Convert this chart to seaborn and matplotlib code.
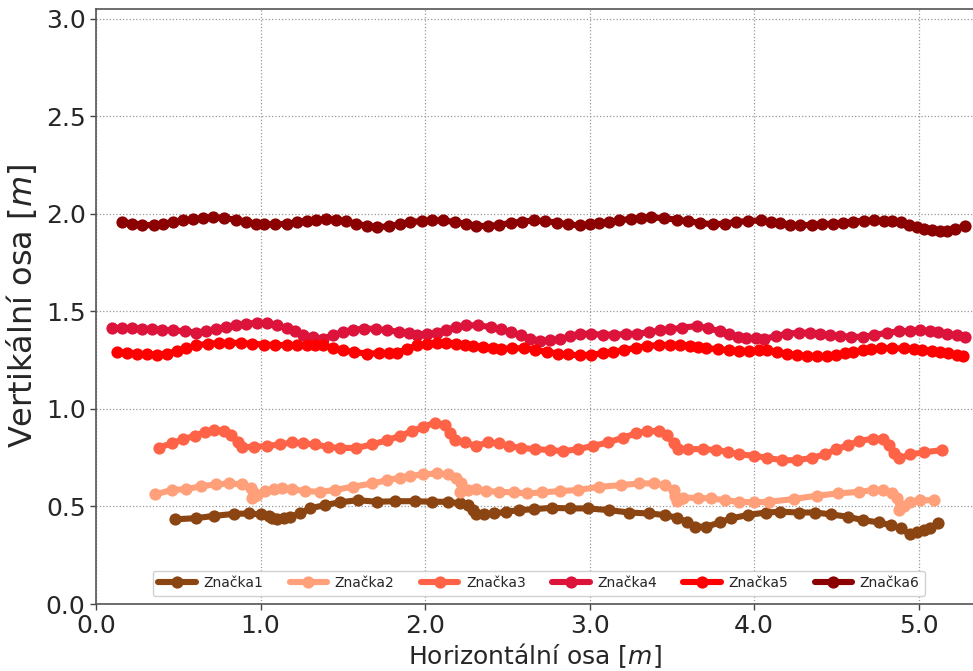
import numpy as np
import pandas as pd
import matplotlib
matplotlib.use("Agg")
import matplotlib.pyplot as plt
from matplotlib.ticker import MultipleLocator, FormatStrFormatter
import seaborn as sns

# ── data ─────────────────────────────────────────────────────────────────────
x1 = [0.48, 0.61, 0.72, 0.84, 0.93, 1.00, 1.05, 1.07, 1.10, 1.14,
      1.18, 1.24, 1.30, 1.39, 1.48, 1.59, 1.71, 1.82, 1.94, 2.04,
      2.14, 2.21, 2.26, 2.29, 2.31, 2.36, 2.42, 2.49, 2.57, 2.66,
      2.77, 2.88, 2.99, 3.12, 3.24, 3.36, 3.46, 3.53, 3.59, 3.64,
      3.71, 3.79, 3.86, 3.96, 4.07, 4.16, 4.27, 4.37, 4.47, 4.57,
      4.66, 4.76, 4.83, 4.89, 4.95, 4.99, 5.03, 5.07, 5.12]
y1 = [0.434, 0.440, 0.452, 0.462, 0.464, 0.459, 0.451, 0.439, 0.434, 0.439,
      0.447, 0.464, 0.490, 0.507, 0.521, 0.532, 0.524, 0.527, 0.527, 0.524,
      0.524, 0.516, 0.507, 0.481, 0.459, 0.459, 0.464, 0.473, 0.481, 0.486,
      0.493, 0.490, 0.490, 0.481, 0.469, 0.464, 0.456, 0.442, 0.421, 0.396,
      0.396, 0.418, 0.439, 0.456, 0.469, 0.473, 0.469, 0.469, 0.459, 0.447,
      0.430, 0.418, 0.404, 0.388, 0.357, 0.370, 0.379, 0.391, 0.413]

x2 = [0.36, 0.46, 0.55, 0.64, 0.73, 0.81, 0.89, 0.94, 0.96, 0.95,
      0.98, 1.03, 1.08, 1.13, 1.19, 1.27, 1.36, 1.45, 1.56, 1.68,
      1.77, 1.85, 1.91, 1.99, 2.07, 2.14, 2.19, 2.22, 2.21, 2.26,
      2.31, 2.37, 2.45, 2.54, 2.62, 2.71, 2.82, 2.93, 3.06, 3.19,
      3.30, 3.39, 3.46, 3.51, 3.52, 3.53, 3.55, 3.57, 3.66, 3.74,
      3.82, 3.91, 4.00, 4.09, 4.24, 4.38, 4.51, 4.64, 4.72, 4.78,
      4.84, 4.87, 4.88, 4.91, 4.95, 5.01, 5.09]
y2 = [0.562, 0.584, 0.589, 0.604, 0.613, 0.618, 0.613, 0.596, 0.567, 0.541,
      0.558, 0.579, 0.589, 0.596, 0.589, 0.579, 0.575, 0.584, 0.601, 0.618,
      0.635, 0.648, 0.657, 0.664, 0.669, 0.664, 0.647, 0.618, 0.575, 0.584,
      0.589, 0.579, 0.575, 0.572, 0.567, 0.572, 0.579, 0.584, 0.601, 0.609,
      0.618, 0.618, 0.609, 0.584, 0.552, 0.527, 0.536, 0.545, 0.544, 0.541,
      0.532, 0.524, 0.521, 0.524, 0.538, 0.555, 0.567, 0.575, 0.584, 0.584,
      0.567, 0.541, 0.481, 0.503, 0.521, 0.532, 0.532]

x3 = [0.38, 0.46, 0.53, 0.60, 0.66, 0.72, 0.78, 0.82, 0.86, 0.89,
      0.96, 1.04, 1.12, 1.19, 1.26, 1.33, 1.41, 1.48, 1.58, 1.68,
      1.77, 1.85, 1.92, 1.99, 2.06, 2.12, 2.15, 2.18, 2.24, 2.31,
      2.38, 2.45, 2.51, 2.58, 2.67, 2.76, 2.84, 2.93, 3.02, 3.11,
      3.20, 3.28, 3.35, 3.42, 3.47, 3.51, 3.54, 3.60, 3.69, 3.77,
      3.84, 3.91, 4.00, 4.08, 4.17, 4.26, 4.35, 4.43, 4.50, 4.57,
      4.64, 4.72, 4.78, 4.82, 4.85, 4.88, 4.95, 5.03, 5.14]
y3 = [0.802, 0.823, 0.845, 0.862, 0.882, 0.891, 0.886, 0.865, 0.831, 0.805,
      0.805, 0.810, 0.818, 0.828, 0.823, 0.818, 0.805, 0.800, 0.800, 0.818,
      0.840, 0.862, 0.886, 0.908, 0.930, 0.917, 0.874, 0.840, 0.828, 0.810,
      0.828, 0.823, 0.810, 0.800, 0.794, 0.789, 0.783, 0.794, 0.810, 0.828,
      0.852, 0.874, 0.886, 0.886, 0.865, 0.823, 0.797, 0.794, 0.794, 0.789,
      0.780, 0.767, 0.760, 0.749, 0.737, 0.737, 0.749, 0.767, 0.794, 0.814,
      0.835, 0.848, 0.845, 0.814, 0.772, 0.746, 0.767, 0.777, 0.789]

x4 = [0.10, 0.16, 0.22, 0.28, 0.34, 0.40, 0.47, 0.54, 0.61, 0.67,
      0.73, 0.79, 0.85, 0.91, 0.98, 1.04, 1.10, 1.16, 1.21, 1.26,
      1.32, 1.38, 1.44, 1.50, 1.56, 1.63, 1.70, 1.77, 1.84, 1.90,
      1.95, 2.01, 2.07, 2.13, 2.19, 2.25, 2.32, 2.40, 2.46, 2.52,
      2.58, 2.64, 2.70, 2.76, 2.82, 2.88, 2.94, 3.01, 3.08, 3.15,
      3.22, 3.29, 3.36, 3.43, 3.49, 3.56, 3.65, 3.72, 3.79, 3.85,
      3.90, 3.95, 4.01, 4.06, 4.13, 4.20, 4.27, 4.34, 4.40, 4.46,
      4.52, 4.59, 4.66, 4.73, 4.81, 4.88, 4.95, 5.01, 5.07, 5.12,
      5.17, 5.23, 5.28]
y4 = [1.415, 1.415, 1.414, 1.412, 1.410, 1.406, 1.403, 1.398, 1.391, 1.398,
      1.410, 1.420, 1.428, 1.436, 1.442, 1.439, 1.429, 1.415, 1.398, 1.381,
      1.368, 1.360, 1.378, 1.394, 1.405, 1.412, 1.410, 1.402, 1.396, 1.388,
      1.381, 1.384, 1.391, 1.405, 1.420, 1.429, 1.428, 1.420, 1.408, 1.394,
      1.378, 1.360, 1.349, 1.352, 1.358, 1.372, 1.386, 1.384, 1.381, 1.381,
      1.383, 1.386, 1.393, 1.402, 1.408, 1.416, 1.425, 1.414, 1.398, 1.382,
      1.370, 1.364, 1.361, 1.360, 1.372, 1.386, 1.390, 1.391, 1.385, 1.378,
      1.374, 1.370, 1.369, 1.378, 1.391, 1.397, 1.401, 1.403, 1.398, 1.392,
      1.386, 1.377, 1.369]

x5 = [0.13, 0.19, 0.25, 0.31, 0.37, 0.43, 0.49, 0.55, 0.61, 0.68,
      0.75, 0.81, 0.88, 0.95, 1.02, 1.09, 1.16, 1.22, 1.28, 1.33,
      1.38, 1.44, 1.50, 1.57, 1.65, 1.72, 1.78, 1.83, 1.89, 1.95,
      2.01, 2.07, 2.13, 2.19, 2.24, 2.29, 2.35, 2.41, 2.46, 2.53,
      2.60, 2.67, 2.74, 2.81, 2.87, 2.94, 3.01, 3.08, 3.14, 3.21,
      3.28, 3.35, 3.42, 3.49, 3.55, 3.61, 3.66, 3.71, 3.78, 3.85,
      3.91, 3.97, 4.03, 4.08, 4.14, 4.20, 4.26, 4.32, 4.38, 4.44,
      4.50, 4.55, 4.60, 4.66, 4.71, 4.77, 4.84, 4.91, 4.97, 5.02,
      5.08, 5.13, 5.18, 5.23, 5.27]
y5 = [1.292, 1.288, 1.284, 1.280, 1.278, 1.284, 1.295, 1.311, 1.326, 1.334,
      1.338, 1.340, 1.338, 1.334, 1.330, 1.328, 1.327, 1.326, 1.326, 1.327,
      1.326, 1.314, 1.301, 1.291, 1.284, 1.285, 1.287, 1.289, 1.306, 1.326,
      1.334, 1.338, 1.340, 1.335, 1.329, 1.323, 1.318, 1.313, 1.309, 1.310,
      1.312, 1.302, 1.292, 1.284, 1.279, 1.275, 1.278, 1.285, 1.292, 1.302,
      1.313, 1.323, 1.327, 1.329, 1.330, 1.324, 1.318, 1.312, 1.306, 1.300,
      1.295, 1.297, 1.300, 1.301, 1.292, 1.283, 1.275, 1.273, 1.271, 1.271,
      1.277, 1.285, 1.292, 1.300, 1.307, 1.312, 1.311, 1.310, 1.309, 1.303,
      1.297, 1.292, 1.285, 1.278, 1.271]

x6 = [0.16, 0.22, 0.28, 0.35, 0.41, 0.47, 0.53, 0.59, 0.65, 0.71,
      0.78, 0.85, 0.91, 0.97, 1.02, 1.09, 1.16, 1.22, 1.28, 1.34,
      1.40, 1.46, 1.52, 1.58, 1.65, 1.71, 1.78, 1.85, 1.91, 1.98,
      2.04, 2.11, 2.18, 2.25, 2.31, 2.38, 2.45, 2.52, 2.59, 2.66,
      2.73, 2.80, 2.87, 2.94, 3.00, 3.06, 3.12, 3.18, 3.25, 3.31,
      3.37, 3.45, 3.53, 3.60, 3.67, 3.75, 3.82, 3.89, 3.96, 4.04,
      4.10, 4.16, 4.22, 4.28, 4.35, 4.41, 4.48, 4.54, 4.60, 4.67,
      4.73, 4.79, 4.84, 4.89, 4.94, 4.99, 5.03, 5.08, 5.13, 5.17,
      5.22, 5.28]
y6 = [1.958, 1.950, 1.944, 1.941, 1.948, 1.958, 1.966, 1.972, 1.978, 1.983,
      1.978, 1.970, 1.960, 1.950, 1.946, 1.946, 1.949, 1.956, 1.964, 1.970,
      1.972, 1.970, 1.962, 1.950, 1.938, 1.932, 1.936, 1.948, 1.958, 1.963,
      1.966, 1.966, 1.958, 1.948, 1.940, 1.936, 1.944, 1.953, 1.960, 1.966,
      1.962, 1.955, 1.946, 1.941, 1.946, 1.952, 1.958, 1.966, 1.975, 1.980,
      1.983, 1.978, 1.970, 1.962, 1.954, 1.946, 1.950, 1.958, 1.963, 1.966,
      1.960, 1.952, 1.944, 1.941, 1.944, 1.947, 1.949, 1.955, 1.960, 1.965,
      1.966, 1.964, 1.961, 1.958, 1.945, 1.932, 1.924, 1.915, 1.911, 1.911,
      1.922, 1.936]

labels = ["Značka1", "Značka2", "Značka3", "Značka4", "Značka5", "Značka6"]
colors = ["#8B4513", "#FFA07A", "#FF6347", "#DC143C", "#FF0000", "#8B0000"]
series = [(x1, y1), (x2, y2), (x3, y3), (x4, y4), (x5, y5), (x6, y6)]

# ── plot ─────────────────────────────────────────────────────────────────────
sns.set_style("white")
plt.rcParams["font.family"] = ["DejaVu Sans"]
plt.rcParams["mathtext.fontset"] = "dejavusans"

fig = plt.figure(figsize=(9.73, 6.71), dpi=100)
ax = fig.add_axes([96 / 973, 67 / 671, 877 / 973, 595 / 671])

for (xs, ys), lab, col in zip(series, labels, colors):
    df = pd.DataFrame({"x": xs, "y": ys})
    sns.lineplot(data=df, x="x", y="y", ax=ax, sort=False, estimator=None,
                 color=col, label=lab, linewidth=4.4, marker="o",
                 markersize=8.8, markeredgewidth=0)

ax.set_xlim(0, 5.33)
ax.set_ylim(0, 3.05)
ax.xaxis.set_major_locator(MultipleLocator(1.0))
ax.yaxis.set_major_locator(MultipleLocator(0.5))
ax.xaxis.set_major_formatter(FormatStrFormatter("%.1f"))
ax.yaxis.set_major_formatter(FormatStrFormatter("%.1f"))
ax.tick_params(axis="both", labelsize=18, length=4, width=1, color="#444444",
               direction="out", left=True, bottom=True)
ax.grid(True, linestyle=":", color="#999999", linewidth=0.9)

for s in ["left", "bottom", "top"]:
    ax.spines[s].set_color("#555555")
    ax.spines[s].set_linewidth(1.2)
ax.spines["right"].set_visible(False)

ax.set_xlabel("Horizontální osa [$m$]", fontsize=18, labelpad=2)
ax.set_ylabel("Vertikální osa [$m$]", fontsize=23, labelpad=5)

ax.legend(loc="lower center", ncol=6, fontsize=10, frameon=True,
          bbox_to_anchor=(0.505, 0.0), borderaxespad=0.6,
          columnspacing=1.9, handlelength=2.7, handletextpad=0.55,
          fancybox=True, edgecolor="#cccccc", framealpha=0.9)

fig.savefig("out.png", dpi=100)
